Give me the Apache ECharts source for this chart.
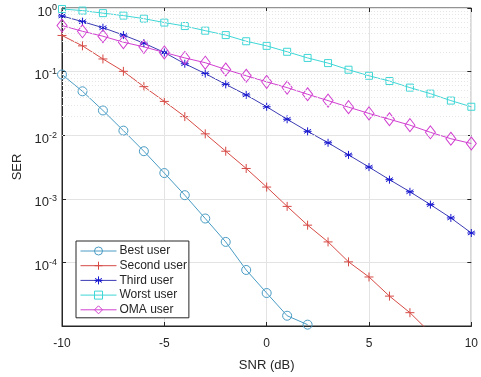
<!DOCTYPE html>
<html>
<head>
<meta charset="utf-8">
<script src="https://cdn.jsdelivr.net/npm/echarts@6/dist/echarts.min.js"></script>
<style>
  html, body { margin: 0; padding: 0; background: #fff; }
  #chart { width: 481px; height: 377px; }
</style>
</head>
<body>
<div id="chart"></div>
<script>
// SNR points (dB)
const snr = [-10, -9, -8, -7, -6, -5, -4, -3, -2, -1, 0, 1, 2, 3, 4, 5, 6, 7, 8, 9, 10]

// SER values
const bestUser = [0.09, 0.049, 0.0245, 0.0118, 0.0056, 0.00254, 0.00114, 0.00049, 0.00021, 7.6e-5, 3.3e-5, 1.45e-5, 1.05e-5, null, null, null, null, null, null, null, null]
const secondUser = [0.37, 0.254, 0.158, 0.101, 0.058, 0.034, 0.0196, 0.0105, 0.0056, 0.003, 0.00153, 7.6e-4, 3.85e-4, 2.1e-4, 1.02e-4, 5.9e-5, 2.95e-5, 1.62e-5, 7.8e-6, null, null]
const thirdUser = [0.75, 0.61, 0.49, 0.375, 0.28, 0.2, 0.133, 0.093, 0.063, 0.043, 0.028, 0.0178, 0.0115, 0.0076, 0.0049, 0.00315, 0.002, 0.00129, 8.1e-4, 5.0e-4, 2.9e-4]
const worstUser = [0.965, 0.91, 0.83, 0.76, 0.68, 0.59, 0.52, 0.44, 0.375, 0.30, 0.254, 0.205, 0.164, 0.136, 0.107, 0.086, 0.071, 0.056, 0.045, 0.035, 0.028]
const omaUser = [0.53, 0.43, 0.36, 0.29, 0.245, 0.2, 0.164, 0.138, 0.108, 0.086, 0.069, 0.056, 0.044, 0.035, 0.0276, 0.022, 0.0178, 0.0144, 0.0111, 0.0088, 0.0074]

const xTicks = [-10, -5, 0, 5, 10]
const yMin = 1e-5
const yMax = 1

// dotted minor grid at 2..9 of every decade
const minorGrid = []
for (let e = -5; e < 0; e++) {
  for (let m = 2; m <= 9; m++) minorGrid.push({ yAxis: m * Math.pow(10, e) })
}

const font = 'Liberation Sans, Arial, sans-serif'
const dark = '#262626'

const plus = 'path://M0,-1L0,1M-1,0L1,0'
const star = 'path://M0,-1L0,1M-0.87,-0.5L0.87,0.5M-0.87,0.5L0.87,-0.5M-1,0L1,0'

function makeSeries(name, values, color, symbol, size, markColor) {
  return {
    name,
    type: 'line',
    data: snr.map((x, i) => [x, values[i]]),
    symbol,
    symbolSize: size,
    showSymbol: true,
    color,
    lineStyle: { color, width: 1 },
    itemStyle: { color: 'rgba(255,255,255,0)', borderColor: markColor || color, borderWidth: 1 },
    clip: true,
    connectNulls: false,
    z: 3
  }
}

const chart = echarts.init(document.getElementById('chart'))

const option = {
  animation: false,
  backgroundColor: '#fff',
  textStyle: { fontFamily: font },
  grid: {
    left: 62, right: 6, top: 8, bottom: 44,
    show: true, borderColor: dark, borderWidth: 1
  },
  legend: {
    orient: 'vertical',
    left: 76, top: 241,
    padding: [4, 2, 2, 4],
    itemGap: 2.7,
    itemWidth: 36,
    itemHeight: 10,
    backgroundColor: '#fff',
    borderColor: dark,
    borderWidth: 1,
    borderRadius: 0,
    lineStyle: { width: 1 },
    itemStyle: { borderWidth: 1 },
    textStyle: { fontFamily: font, fontSize: 12, color: dark, padding: [0, 0, 0, -2] },
    data: ['Best user', 'Second user', 'Third user', 'Worst user', 'OMA user']
  },
  xAxis: [
    {
      type: 'value', min: -10, max: 10, interval: 5,
      name: 'SNR (dB)', nameLocation: 'middle', nameGap: 33,
      nameTextStyle: { fontSize: 13, color: dark, fontFamily: font },
      axisLine: { onZero: false, lineStyle: { color: dark } },
      axisTick: { inside: true, length: 4, lineStyle: { color: dark } },
      axisLabel: { fontSize: 12, color: dark, margin: 12, formatter: v => xTicks.includes(v) ? String(v) : '' },
      splitLine: { show: true, lineStyle: { color: '#e3e3e3', width: 1 } }
    },
    {
      type: 'value', min: -10, max: 10, interval: 5, position: 'top',
      axisLine: { show: false, onZero: false },
      axisTick: { inside: true, length: 4, lineStyle: { color: dark } },
      axisLabel: { show: false },
      splitLine: { show: false }
    }
  ],
  yAxis: [
    {
      type: 'log', min: yMin, max: yMax, logBase: 10,
      name: 'SER', nameLocation: 'middle', nameGap: 36,
      nameTextStyle: { fontSize: 13, color: dark, fontFamily: font },
      axisLine: { show: true, onZero: false, lineStyle: { color: dark } },
      axisTick: { inside: true, length: 4, lineStyle: { color: dark } },
      axisLabel: {
        fontSize: 13, color: dark, margin: 5,
        padding: [8, 0, 0, 0],
        showMinLabel: false,
        formatter: v => {
          const e = Math.round(Math.log10(v))
          return '10{sup|' + e + '}'
        },
        rich: { sup: { fontSize: 9, verticalAlign: 'top', padding: [0, 0, 8, 0], color: dark, fontFamily: font } }
      },
      splitLine: { show: true, lineStyle: { color: '#e3e3e3', width: 1 } }
    },
    {
      type: 'log', min: yMin, max: yMax, logBase: 10, position: 'right',
      axisLine: { show: false, onZero: false },
      axisTick: { inside: true, length: 4, lineStyle: { color: dark } },
      axisLabel: { show: false },
      splitLine: { show: false }
    }
  ],
  series: [
    {
      type: 'line',
      data: [],
      silent: true,
      markLine: {
        silent: true,
        symbol: 'none',
        label: { show: false },
        lineStyle: { color: '#e6e6e6', type: [1, 2], width: 1 },
        data: minorGrid
      },
      z: 1
    },
    makeSeries('Best user', bestUser, '#4a9cc4', 'circle', 9),
    makeSeries('Second user', secondUser, '#d64a45', plus, 9),
    makeSeries('Third user', thirdUser, '#3c3cb4', star, 8, '#1818d0'),
    makeSeries('Worst user', worstUser, '#3fd6d6', 'rect', 7),
    makeSeries('OMA user', omaUser, '#d140d1', 'diamond', [10, 13])
  ]
}

chart.setOption(option)
</script>
</body>
</html>
